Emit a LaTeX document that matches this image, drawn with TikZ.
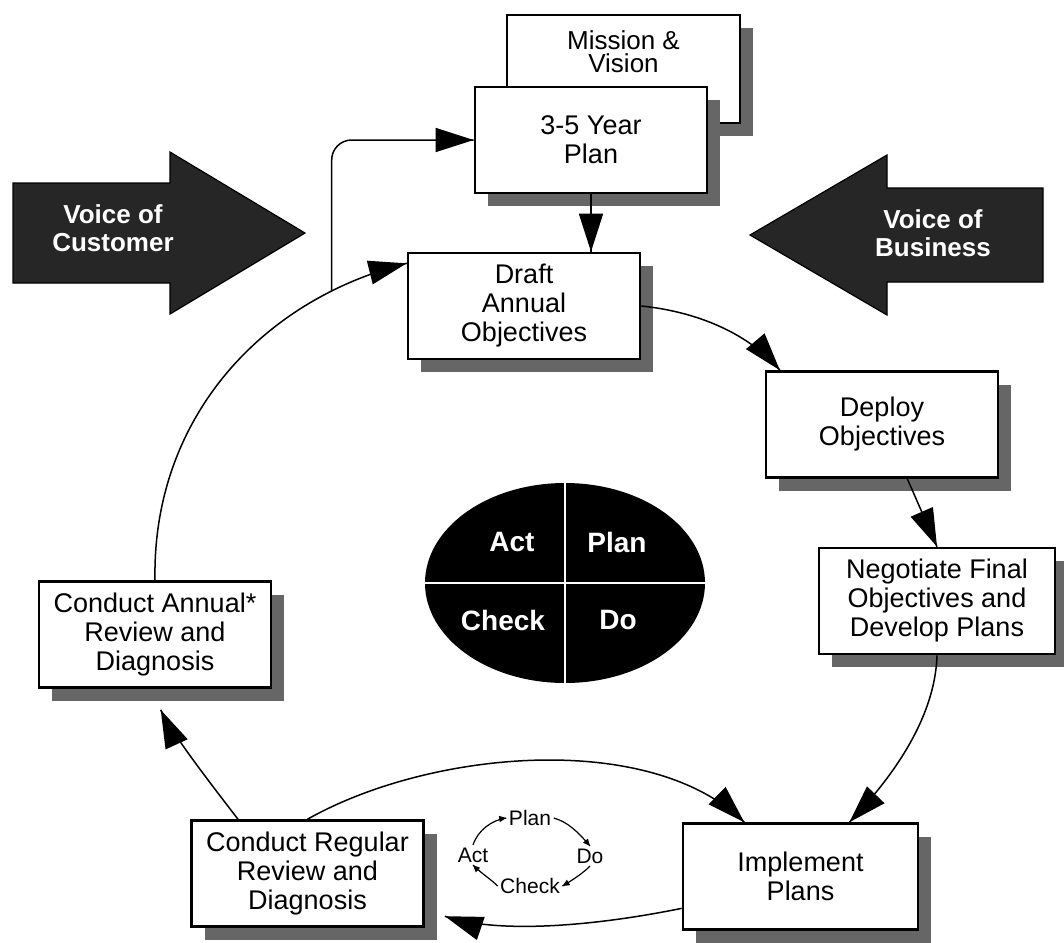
\documentclass[tikz,border=0pt]{standalone}
\usepackage{fontspec}
\setmainfont{Liberation Sans}
\usetikzlibrary{arrows.meta}
\usetikzlibrary{decorations.markings}
\usetikzlibrary{positioning}
\usetikzlibrary{shapes.geometric}
\usetikzlibrary{shadows}
\usetikzlibrary{calc}
\tikzset{->/.style = {decoration={markings,
                                  mark=at position 0.9999 with {\arrow{Triangle[length=19pt,width=12pt]}}},
                      postaction={decorate}}}
\tikzset{cyc/.style = {decoration={markings,
                                   mark=at position 0.9999 with {\arrow{Triangle[length=3.5pt,width=3pt]}}},
                       postaction={decorate}}}
\tikzset{box/.style = {draw, line width=1.3pt, fill=white, align=center,
                       minimum width=116pt, minimum height=53pt,
                       font=\fontsize{13.5}{14.5}\selectfont,
                       drop shadow={shadow xshift=6.5pt, shadow yshift=-6.5pt,
                                    fill=black!60, opacity=1}}}
\tikzset{voice/.style = {fill=black!85, draw=black, line width=0.6pt}}
\tikzset{voicetext/.style = {text=white, align=center, font=\fontsize{13}{14}\selectfont\bfseries}}
\tikzset{quad/.style = {text=white, font=\fontsize{14}{16}\selectfont\bfseries}}
\tikzset{small/.style = {font=\fontsize{10.5}{12}\selectfont, inner sep=1pt}}

\begin{document}
\begin{tikzpicture}[x=0.5pt, y=-0.5pt, line width=0.75pt]
      \useasboundingbox (0,0) rectangle (1064,942);

      \draw [voice] (13,183) -- (170,183) -- (170,152) -- (305,233) -- (170,314) -- (170,283) -- (13,283) -- cycle;
      \node [voicetext] (customer) at (113,228) {Voice of\\Customer};
      \draw [voice] (1043,188) -- (887,188) -- (887,155) -- (750,235) -- (887,315) -- (887,282) -- (1043,282) -- cycle;
      \node [voicetext] (business) at (933,233) {Voice of\\Business};

      \node [box, minimum width=116.5pt, minimum height=54pt] (mission) at (623.5,69) {};
      \node [align=center, inner sep=0pt, font=\fontsize{13}{11.5}\selectfont, below=8pt of mission.north] (missiontext) {Mission \&\\Vision};
      \node [box] (plan35) at (591,140) {3-5 Year\\Plan};
      \node [box] (draft) at (524,306) {Draft\\Annual\\Objectives};
      \node [box] (deploy) at (882,424.5) {Deploy\\Objectives};
      \node [box, minimum width=118pt] (negotiate) at (937,601) {Negotiate Final\\Objectives and\\Develop Plans};
      \node [box, minimum width=117.5pt] (implement) at (800.5,876.5) {Implement\\Plans};
      \node [box] (regular) at (307.5,873.5) {Conduct Regular\\Review and\\Diagnosis};
      \node [box] (annual) at (155,634.5) {Conduct Annual*\\Review and\\Diagnosis};

      \node [ellipse, fill=black, minimum width=140pt, minimum height=100pt] (pdca) at (565,583) {};
      \draw [white, line width=1pt] (pdca.north) -- (pdca.south);
      \draw [white, line width=1pt] (pdca.west) -- (pdca.east);
      \node [quad] (act) at (512,542) {Act};
      \node [quad] (plan) at (617,542) {Plan};
      \node [quad] (check) at (503,620) {Check};
      \node [quad] (do) at (618,620) {Do};

      \node [small] (splan) at (530,818) {Plan};
      \node [small] (sdo) at (590,856) {Do};
      \node [small] (scheck) at (530,886) {Check};
      \node [small] (sact) at (473,855) {Act};
      \draw [cyc, line width=0.6pt] (sact.north) .. controls (478,830) and (492,820) .. (splan.west);
      \draw [cyc, line width=0.6pt] (splan.east) .. controls (568,822) and (578,832) .. (sdo.north);
      \draw [cyc, line width=0.6pt] (sdo.south) .. controls (584,872) and (576,878) .. (scheck.east);
      \draw [cyc, line width=0.6pt] (scheck.west) .. controls (492,880) and (482,874) .. (sact.south);

      \draw [->] (annual.north) .. controls (152,420) and (260,300) .. (draft.160) coordinate [pos=0.82] (branch);
      \draw [->, rounded corners=10pt] (branch) |- (plan35.west);
      \draw [->] (plan35.south) -- (plan35.south |- draft.north);
      \draw [->] (draft.east) .. controls (700,312) and (750,335) .. (deploy.152);
      \draw [->] (deploy.-65) -- (negotiate.north);
      \draw [->] (negotiate.south) .. controls (935,720) and (890,780) .. (implement.48);
      \draw [->] (regular.north) .. controls (430,750) and (650,730) .. (implement.136);
      \draw [->] (implement.-165) .. controls (600,925) and (500,935) .. ($(regular.-20)+(20,0)$);
      \draw [->] (regular.142) .. controls (200,770) and (170,730) .. ($(annual.-84)+(0,21)$);
    \end{tikzpicture}
\end{document}
